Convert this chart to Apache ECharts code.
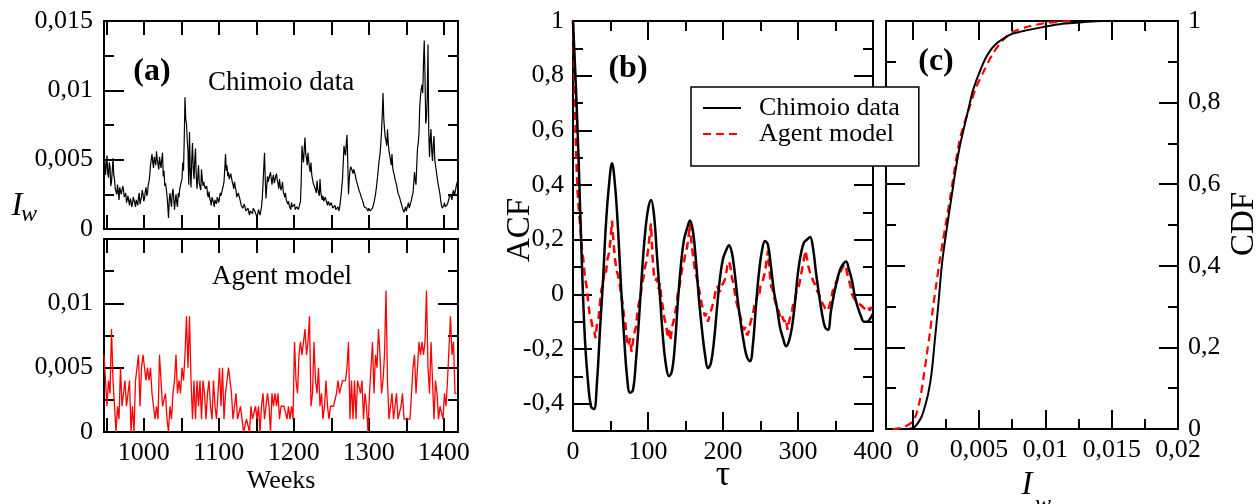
<!DOCTYPE html>
<html><head><meta charset="utf-8">
<script src="https://cdn.jsdelivr.net/npm/echarts@6/dist/echarts.min.js"></script>
<style>html,body{margin:0;padding:0;background:#fff}#c{width:1258px;height:504px}</style>
</head><body><div id="c"></div><script>
// ---------- DATA ----------
// Panel (a): weekly incidence I_w, in units of 1e-3 (tick labels show real values)
const weekStart = 947;          // first week of chimoioWeekly (1-week step)
const chimoioWeekly = [
  4.4,4.9,3.9,4.6,5.3,4.0,3.7,4.8,4.5,3.1,3.4,4.2,5.1,3.9,3.6,2.9,3.0,2.5,3.2,2.7,
  2.1,3.0,2.9,2.5,2.6,3.1,2.8,2.3,2.2,2.6,1.9,2.1,2.4,2.0,1.7,2.2,2.0,1.6,1.8,2.3,
  2.2,1.9,1.6,2.1,2.0,1.7,2.3,2.6,1.8,2.1,2.3,2.8,2.5,2.0,2.2,2.7,3.0,2.4,2.6,3.2,
  3.4,3.9,4.6,5.0,5.4,4.8,4.4,5.2,5.1,4.6,5.6,5.0,4.7,4.3,5.2,4.8,4.4,5.0,5.5,3.8,
  4.2,3.1,3.3,2.9,2.4,1.7,0.8,2.1,2.6,2.0,1.6,2.5,2.9,2.2,1.4,2.0,2.5,1.9,1.6,2.6,
  2.3,2.9,3.0,3.4,3.6,4.8,4.2,6.5,9.5,7.9,7.6,6.4,5.6,3.2,7.0,4.1,3.0,5.0,6.2,4.4,
  3.6,4.9,5.8,3.8,2.9,3.7,4.6,3.3,3.4,2.8,4.3,3.6,3.1,3.4,3.5,2.9,2.8,3.1,2.5,2.3,
  2.7,2.2,2.0,1.7,2.3,2.1,1.9,1.6,2.1,2.0,1.8,2.3,2.2,1.9,2.0,2.6,2.4,2.5,2.9,3.1,
  3.4,4.3,5.4,4.2,4.6,3.8,4.1,3.6,3.5,4.0,3.9,3.4,3.2,2.9,3.4,3.0,2.8,2.3,2.4,2.6,
  2.7,2.2,2.1,1.7,1.8,1.5,1.5,1.8,1.6,1.3,1.2,1.4,1.5,1.2,1.0,1.3,1.4,1.2,1.1,1.5,
  1.5,1.3,1.2,1.0,0.8,1.1,1.4,1.2,1.0,1.3,1.6,2.2,3.2,4.4,5.5,3.6,2.2,3.1,3.8,3.4,
  3.5,3.9,4.1,3.6,3.2,3.7,3.9,3.3,3.4,3.8,4.0,3.5,3.3,2.9,3.6,3.1,2.8,3.0,3.4,2.7,
  2.5,2.3,2.6,2.1,2.2,1.8,2.0,1.7,1.6,1.4,1.9,1.6,1.5,1.7,1.8,1.4,1.3,1.6,1.7,1.4,
  1.5,1.8,2.0,3.6,6.0,5.2,4.8,5.8,6.6,5.4,5.1,4.6,5.5,4.9,4.4,4.1,4.8,3.9,3.6,3.3,
  3.2,3.0,2.8,2.6,3.5,2.9,2.6,2.4,3.6,2.7,2.3,2.1,2.4,2.0,1.9,2.3,2.2,1.9,1.7,2.0,
  2.0,1.7,1.6,1.9,1.8,1.5,1.4,1.6,1.7,1.4,1.3,1.5,1.6,1.3,1.5,1.9,2.4,3.0,3.6,4.8,
  6.0,5.6,5.3,6.1,6.8,4.9,2.5,3.6,4.2,4.5,4.6,4.2,4.0,4.3,4.4,3.9,3.6,3.4,3.2,3.0,
  2.8,2.7,2.5,2.3,2.2,2.0,1.9,1.6,1.7,1.5,1.5,1.4,1.3,1.5,1.6,1.3,1.2,1.4,1.5,1.7,
  1.9,2.2,2.5,2.9,3.4,3.9,4.5,5.0,5.4,6.1,7.0,8.2,9.8,8.0,7.2,6.6,6.4,6.0,7.2,6.2,
  5.6,5.3,5.0,4.6,5.4,4.4,4.1,3.9,3.6,3.4,3.2,2.9,2.6,2.5,2.3,2.1,1.9,1.7,1.5,1.4,
  1.2,1.4,1.6,1.3,1.4,1.7,1.9,1.5,1.6,1.9,2.1,2.4,2.6,3.3,4.1,3.5,3.2,4.6,5.8,6.2,
  6.9,8.8,9.6,10.1,10.4,9.8,12.0,13.6,11.0,7.6,8.0,9.5,13.3,7.0,5.2,6.5,7.2,5.6,4.9,6.1,
  6.7,5.0,4.6,4.2,3.8,3.4,3.1,2.8,2.5,2.0,1.7,1.5,1.4,1.7,1.9,1.6,1.5,1.7,1.8,2.0,
  2.2,2.5,2.6,2.3,2.1,2.6,2.8,2.4,2.6,2.9,3.2,3.4
];
const modelWeekStart = 947;     // first week of agentWeekly
const modelWeekStep = 2;        // agentWeekly is read every 2 weeks
const agentWeekly = [
  6,4,2,4,3,8,4,4,0,2,
  1,5,2,2,4,2,2,4,0,2,
  0,4,4,6,2,5,6,5,4,5,
  4,5,3,2,1,2,1,6,4,2,
  2,3,1,0,2,1,3,4,6,3,
  4,3,5,4,6,9,5,9,4,1,
  4,1,4,2,4,1,4,3,1,3,
  4,2,1,4,2,1,3,5,2,5,
  1,3,4,5,4,3,1,1,3,1,
  1,2,1,0,0,1,1,0,2,1,
  1,2,1,2,0,2,3,1,2,3,
  2,0,3,2,3,2,3,1,2,2,
  2,2,1,2,1,2,1,7,4,3,
  6,7,6,7,8,6,7,9,2,3,
  7,4,3,5,2,3,1,2,4,2,
  1,2,2,2,2,3,4,3,3,4,
  4,4,5,7,1,4,1,4,1,4,
  4,3,4,1,3,2,0,3,5,7,
  3,6,5,8,6,3,4,6,11,4,
  1,2,3,1,2,3,1,1,2,3,
  1,1,1,1,1,3,5,6,3,5,
  7,6,7,6,7,11,5,3,7,4,
  1,4,3,1,2,2,1,3,2,4,
  4,9,6,7,3,3
];

// Panel (b): autocorrelation functions
const acfDataStep = 4;   // tau step of acfData
const acfData = [
  1.0,0.75,0.45,0.10,-0.17,-0.32,-0.41,-0.42,-0.32,-0.13,
  0.05,0.26,0.40,0.48,0.40,0.24,0.03,-0.15,-0.30,-0.36,
  -0.35,-0.24,-0.09,0.08,0.22,0.31,0.345,0.29,0.14,-0.01,
  -0.16,-0.26,-0.30,-0.28,-0.18,-0.02,0.11,0.20,0.24,0.27,
  0.23,0.12,-0.02,-0.13,-0.22,-0.27,-0.25,-0.17,-0.05,0.06,
  0.13,0.16,0.18,0.15,0.07,-0.03,-0.11,-0.18,-0.23,-0.245,
  -0.18,-0.04,0.08,0.16,0.195,0.18,0.10,0.01,-0.05,-0.12,
  -0.16,-0.19,-0.17,-0.12,-0.03,0.08,0.15,0.19,0.20,0.21,
  0.17,0.08,0.00,-0.07,-0.12,-0.13,-0.06,0.00,0.05,0.09,
  0.11,0.12,0.09,0.05,-0.01,-0.05,-0.08,-0.10,-0.10,-0.09,
  -0.07
];
const acfModelStep = 2;  // tau step of acfModel
const acfModel = [
  1.0,0.78,0.52,0.38,0.30,0.24,0.16,0.12,0.06,0.03,
  -0.02,-0.07,-0.09,-0.12,-0.13,-0.16,-0.11,-0.09,-0.03,0.02,
  0.03,0.09,0.08,0.13,0.15,0.20,0.27,0.19,0.13,0.09,
  0.07,0.04,0.00,-0.03,-0.08,-0.11,-0.17,-0.19,-0.16,-0.21,
  -0.17,-0.14,-0.12,-0.06,-0.03,-0.01,0.04,0.06,0.10,0.12,
  0.16,0.21,0.26,0.14,0.07,0.05,0.06,0.02,0.04,-0.02,
  -0.05,-0.09,-0.11,-0.15,-0.13,-0.17,-0.12,-0.10,-0.07,-0.04,
  0.01,0.03,0.07,0.10,0.12,0.15,0.17,0.21,0.26,0.19,
  0.14,0.10,0.07,0.05,0.02,-0.01,-0.04,-0.06,-0.08,-0.07,
  -0.10,-0.08,-0.06,-0.04,-0.02,0.01,0.03,0.02,0.01,0.03,
  0.04,0.05,0.07,0.11,0.12,0.10,0.06,0.04,0.00,-0.03,
  -0.05,-0.07,-0.09,-0.12,-0.13,-0.12,-0.15,-0.14,-0.11,-0.09,
  -0.07,-0.04,-0.03,0.00,-0.01,0.03,0.04,0.06,0.08,0.12,
  0.16,0.09,0.03,0.02,-0.01,-0.03,-0.05,-0.06,-0.08,-0.07,
  -0.09,-0.10,-0.09,-0.13,-0.10,-0.08,-0.06,-0.03,-0.02,0.01,
  0.02,0.04,0.07,0.10,0.13,0.16,0.13,0.10,0.08,0.07,
  0.05,0.04,0.02,0.01,0.00,-0.02,-0.02,-0.04,-0.05,-0.05,
  -0.06,-0.04,-0.02,0.01,0.02,0.04,0.05,0.07,0.08,0.09,
  0.10,0.11,0.10,0.07,0.05,0.03,0.00,-0.01,-0.02,-0.02,
  -0.03,-0.03,-0.04,-0.04,-0.05,-0.05,-0.06,-0.05,-0.06,-0.04,
  -0.05
];

// Panel (c): cumulative distribution of I_w (x in units of 1e-3)
const cdfDataX = [-0.7,0,0.3,0.68,0.93,1.18,1.43,1.68,1.93,2.25,2.9,3.5,4.25,4.55,5.2,5.7,6.3,7.05,7.55,8.55,9.8,11.3,12.8,14.3,14.8];
const cdfDataY = [0,0.002,0.01,0.03,0.055,0.087,0.136,0.218,0.3,0.414,0.561,0.683,0.789,0.83,0.887,0.92,0.944,0.961,0.969,0.977,0.985,0.993,0.997,1.0,1.0];
const cdfModelX = [-1.5,-0.8,0,0.3,0.55,0.8,1.05,1.3,1.55,1.8,2.05,2.3,2.8,3.55,4.2,4.8,5.4,6.05,6.8,7.55,8.8,10.05,11.3,12.0];
const cdfModelY = [0,0.003,0.018,0.038,0.071,0.12,0.177,0.234,0.3,0.357,0.414,0.463,0.56,0.708,0.78,0.838,0.879,0.92,0.953,0.973,0.987,0.995,0.999,1.0];

// Tick values and labels
const weekTicks = [950,1000,1050,1100,1150,1200,1250,1300,1350,1400];
const weekLabelVals = [1000,1100,1200,1300,1400];
const weekLabels = ['1000','1100','1200','1300','1400'];
const iwMajor = [0,5,10,15];
const iwMinor = [2.5,7.5,12.5];
const iwLabelsTop = ['0','0,005','0,01','0,015'];
const iwLabelValsBottom = [0,5,10];
const iwLabelsBottom = ['0','0,005','0,01'];
const tauMajor = [0,100,200,300,400];
const tauMinor = [50,150,250,350];
const tauLabels = ['0','100','200','300','400'];
const acfMajor = [-0.4,-0.2,0,0.2,0.4,0.6,0.8,1];
const acfMinor = [-0.3,-0.1,0.1,0.3,0.5,0.7,0.9];
const acfLabels = ['-0,4','-0,2','0','0,2','0,4','0,6','0,8','1'];
const cdfXMajor = [0,5,10,15,20];
const cdfXMinor = [2.5,7.5,12.5,17.5];
const cdfXLabels = ['0','0,005','0,01','0,015','0,02'];
const cdfYMajor = [0,0.2,0.4,0.6,0.8,1];
const cdfYMinor = [0.1,0.3,0.5,0.7,0.9];
const cdfYLabels = ['0','0,2','0,4','0,6','0,8','1'];

// ---------- BUILD ----------
const FONT = 'Liberation Serif';
const xAxes = [], yAxes = [];
function addAxes(list, gi, min, max, sides, tickSets, labelSide, labelVals, labelTexts, margin) {
  let first = -1;
  sides.forEach(side => {
    tickSets.forEach((ts, k) => {
      const showLab = labelVals && side === labelSide && k === 0;
      const ax = {
        type: 'value', gridIndex: gi, min: min, max: max, position: side,
        axisLine: {show: false, onZero: false},
        splitLine: {show: false},
        axisTick: {show: true, inside: true, length: ts.len, customValues: ts.vals,
                   lineStyle: {color: '#000', width: 2}},
        axisLabel: showLab ? {
          show: true, customValues: labelVals, margin: margin,
          fontFamily: FONT, fontSize: 26, color: '#000',
          formatter: function (v) {
            const i = labelVals.findIndex(t => Math.abs(t - v) < 1e-9);
            return i >= 0 ? labelTexts[i] : '';
          }
        } : {show: false}
      };
      if (first < 0) first = list.length;
      list.push(ax);
    });
  });
  return first;
}

const grids = [
  {left: 104, top: 21, width: 354, height: 208},
  {left: 104, top: 239, width: 354, height: 193},
  {left: 573, top: 21, width: 300, height: 410},
  {left: 886, top: 21, width: 292, height: 408}
].map(g => Object.assign({show: true, borderColor: '#000', borderWidth: 2, backgroundColor: 'transparent', containLabel: false}, g));

// panel (a) top
const ax0 = addAxes(xAxes, 0, 947, 1419, ['bottom','top'], [{vals: weekTicks, len: 14}], 'none', null, null, 8);
const ay0 = addAxes(yAxes, 0, 0, 15, ['left','right'], [{vals: iwMajor, len: 20}, {vals: iwMinor, len: 10}], 'left', iwMajor, iwLabelsTop, 11);
// panel (a) bottom
const ax1 = addAxes(xAxes, 1, 947, 1419, ['bottom','top'], [{vals: weekTicks, len: 14}], 'bottom', weekLabelVals, weekLabels, 8);
const ay1 = addAxes(yAxes, 1, 0, 15, ['left','right'], [{vals: iwMajor, len: 20}, {vals: iwMinor, len: 10}], 'left', iwLabelValsBottom, iwLabelsBottom, 11);
// panel (b)
const ax2 = addAxes(xAxes, 2, 0, 400, ['bottom','top'], [{vals: tauMajor, len: 19}, {vals: tauMinor, len: 10}], 'bottom', tauMajor, tauLabels, 8);
const ay2 = addAxes(yAxes, 2, -0.5, 1, ['left','right'], [{vals: acfMajor, len: 19}, {vals: acfMinor, len: 10}], 'left', acfMajor, acfLabels, 9);
// panel (c)
const ax3 = addAxes(xAxes, 3, -2, 20, ['bottom','top'], [{vals: cdfXMajor, len: 19}, {vals: cdfXMinor, len: 10}], 'bottom', cdfXMajor, cdfXLabels, 8);
const ay3 = addAxes(yAxes, 3, 0, 1, ['left','right'], [{vals: cdfYMajor, len: 19}, {vals: cdfYMinor, len: 10}], 'right', cdfYMajor, cdfYLabels, 10);

const weeklyData = chimoioWeekly.map((v, i) => [weekStart + i, v]);
const weeklyModel = agentWeekly.map((v, i) => [modelWeekStart + i * modelWeekStep, v]);
const acfD = acfData.map((v, i) => [i * acfDataStep, v]);
const acfM = acfModel.map((v, i) => [i * acfModelStep, v]);
const cdfD = cdfDataX.map((x, i) => [x, cdfDataY[i]]);
const cdfM = cdfModelX.map((x, i) => [x, cdfModelY[i]]);

function txt(x, y, text, size, o) {
  o = o || {};
  return {type: 'text', x: x, y: y, rotation: o.rot || 0, z: 100,
    style: {text: text, fontFamily: FONT, fontSize: size, fontWeight: o.bold ? 'bold' : 'normal',
            fontStyle: o.italic ? 'italic' : 'normal', fill: '#000', align: 'center', verticalAlign: 'middle'}};
}

const chart = echarts.init(document.getElementById('c'), null, {renderer: 'canvas'});
chart.setOption({
  animation: false,
  backgroundColor: '#fff',
  grid: grids,
  xAxis: xAxes,
  yAxis: yAxes,
  legend: {
    data: ['Chimoio data', 'Agent model'],
    orient: 'vertical', left: 691, top: 87,
    padding: [8, 19, 19, 11], itemGap: 0, itemWidth: 38, itemHeight: 14,
    itemStyle: {opacity: 0},
    backgroundColor: '#fff', borderColor: '#000', borderWidth: 1.5, borderRadius: 0,
    textStyle: {fontFamily: FONT, fontSize: 26, color: '#000', lineHeight: 23, padding: [0, 0, 0, 13]},
    selectedMode: false, z: 50
  },
  series: [
    {name: 'weekly data', type: 'line', xAxisIndex: ax0, yAxisIndex: ay0, data: weeklyData,
     showSymbol: false, symbol: 'none', lineStyle: {color: '#000', width: 1.2}, itemStyle: {color: '#000'}},
    {name: 'weekly model', type: 'line', xAxisIndex: ax1, yAxisIndex: ay1, data: weeklyModel,
     showSymbol: false, symbol: 'none', lineStyle: {color: '#ff0000', width: 1.3}, itemStyle: {color: '#ff0000'}},
    {name: 'Agent model', type: 'line', xAxisIndex: ax2, yAxisIndex: ay2, data: acfM,
     showSymbol: false, symbol: 'none', lineStyle: {color: '#ff0000', width: 2.5, type: [8, 5]}, itemStyle: {color: '#ff0000'}},
    {name: 'Chimoio data', type: 'line', xAxisIndex: ax2, yAxisIndex: ay2, data: acfD, smooth: 0.4,
     showSymbol: false, symbol: 'none', lineStyle: {color: '#000', width: 2.5}, itemStyle: {color: '#000'}},
    {name: 'cdf model', type: 'line', xAxisIndex: ax3, yAxisIndex: ay3, data: cdfM, smooth: 0.3,
     showSymbol: false, symbol: 'none', lineStyle: {color: '#ff0000', width: 2.2, type: [8, 5]}, itemStyle: {color: '#ff0000'}},
    {name: 'cdf data', type: 'line', xAxisIndex: ax3, yAxisIndex: ay3, data: cdfD, smooth: 0.3,
     showSymbol: false, symbol: 'none', lineStyle: {color: '#000', width: 2}, itemStyle: {color: '#000'}}
  ],
  graphic: [
    txt(152, 72, '(a)', 32, {bold: true}),
    txt(281, 83, 'Chimoio data', 27),
    txt(282, 277, 'Agent model', 27),
    txt(628, 69, '(b)', 32, {bold: true}),
    txt(936, 62, '(c)', 32, {bold: true}),
    txt(17, 206, 'I', 33, {italic: true}),
    txt(29, 215, 'w', 24, {italic: true}),
    txt(281, 481, 'Weeks', 26),
    txt(520, 230, 'ACF', 33, {rot: Math.PI / 2}),
    txt(723, 476, 'τ', 36),
    txt(1244, 224, 'CDF', 33, {rot: Math.PI / 2}),
    txt(1027, 485, 'I', 33, {italic: true}),
    txt(1043, 505, 'w', 24, {italic: true})
  ]
});
</script></body></html>
